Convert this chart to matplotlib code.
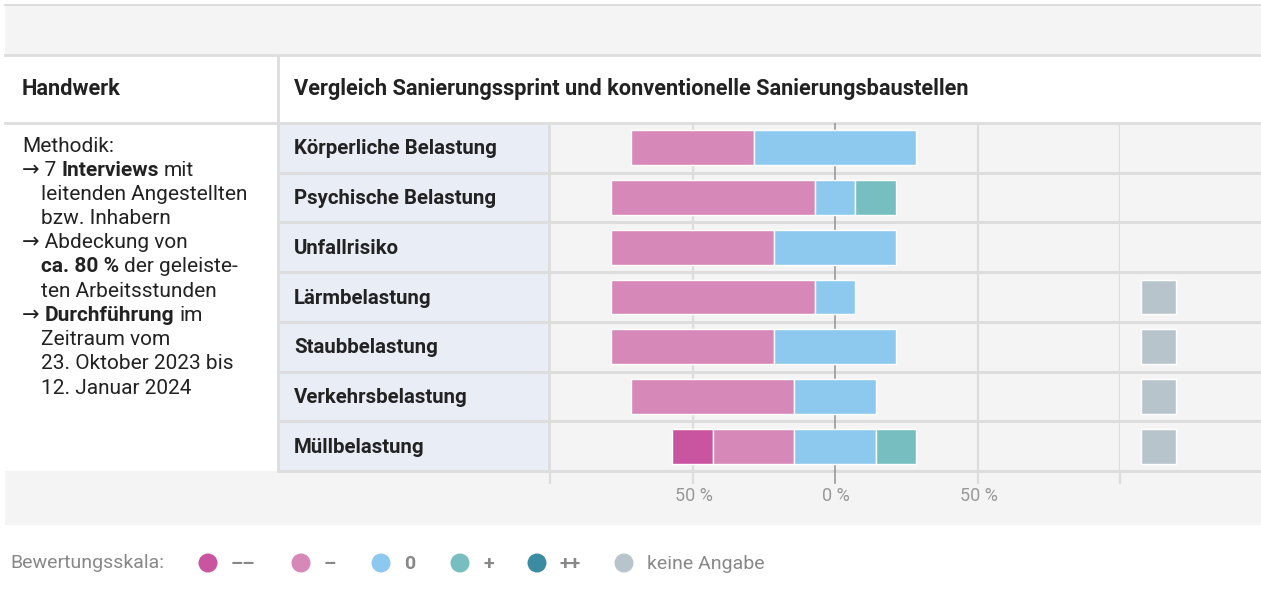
import numpy as np
import matplotlib
matplotlib.use('Agg')
import matplotlib.pyplot as plt
from matplotlib.patches import Rectangle, Circle

plt.rcParams['font.family'] = ['Roboto', 'DejaVu Sans']

# --- data: number of interviews (of 7) per rating ---
categories = ['Körperliche Belastung', 'Psychische Belastung', 'Unfallrisiko',
              'Lärmbelastung', 'Staubbelastung', 'Verkehrsbelastung', 'Müllbelastung']
n_total = 7
very_neg = [0, 0, 0, 0, 0, 0, 1]   # --
neg = [3, 5, 4, 5, 4, 4, 2]        # -
neutral = [4, 1, 3, 1, 3, 2, 2]    # 0
pos = [0, 1, 0, 0, 0, 0, 1]        # +
very_pos = [0, 0, 0, 0, 0, 0, 0]   # ++
no_answer = [0, 0, 0, 1, 1, 1, 1]  # keine Angabe

tick_vals = [-50, 0, 50]
tick_labels = ['50 %', '0 %', '50 %']

legend_labels = ['––', '–', '0', '+', '++', 'keine Angabe']
colors = ['#c955a0', '#d688b9', '#8dc9ee', '#77bec1', '#3b8ba3', '#b8c4cc']

W, H = 1261, 596
fig = plt.figure(figsize=(W / 100, H / 100), dpi=100)
fig.patch.set_facecolor('white')

# frame axes in pixel coordinates
ax0 = fig.add_axes([0, 0, 1, 1])
ax0.set_xlim(0, W)
ax0.set_ylim(H, 0)
ax0.axis('off')

grey_bg = '#f4f4f4'
line_c = '#dddddd'
txt_c = '#222222'

row_top, row_bot = 123, 471
nrows = len(categories)
row_h = (row_bot - row_top) / nrows

# background blocks
ax0.add_patch(Rectangle((5, 5), W - 5, 49, color=grey_bg, lw=0))
ax0.add_patch(Rectangle((5, row_bot), W - 5, 525 - row_bot, color=grey_bg, lw=0))
ax0.add_patch(Rectangle((550, row_top), W - 550, row_bot - row_top, color=grey_bg, lw=0))
ax0.add_patch(Rectangle((278, row_top), 272, row_bot - row_top, color='#e9edf5', lw=0))

# lines
ax0.plot([5, W], [5, 5], color=line_c, lw=1.5)
ax0.plot([5, W], [54.5, 54.5], color=line_c, lw=2)
ax0.plot([5, W], [123, 123], color=line_c, lw=2)
ax0.plot([278, 278], [55, row_bot], color=line_c, lw=2)
ax0.plot([549, 549], [row_top, row_bot], color=line_c, lw=2)
for i in range(1, nrows + 1):
    yb = row_top + i * row_h
    ax0.plot([278, W], [yb, yb], color=line_c, lw=2.2)

# headers
ax0.text(22, 89, 'Handwerk', fontsize=15.7, fontweight='bold', color=txt_c, va='center')
ax0.text(294, 89, 'Vergleich Sanierungssprint und konventionelle Sanierungsbaustellen',
         fontsize=15.7, fontweight='bold', color=txt_c, va='center')

# row labels
for i, c in enumerate(categories):
    ax0.text(294, row_top + (i + 0.5) * row_h + 1, c, fontsize=14.7, fontweight='bold',
             color=txt_c, va='center')

# methodik text with bold runs
renderer = fig.canvas.get_renderer()


def text_runs(x, y, parts, size=15.0):
    sp = ax0.text(0, 0, 'a a', fontsize=size)
    nsp = ax0.text(0, 0, 'aa', fontsize=size)
    space = sp.get_window_extent(renderer).width - nsp.get_window_extent(renderer).width
    sp.remove()
    nsp.remove()
    for s, bold in parts:
        t = ax0.text(x, y, s, fontsize=size, fontweight='bold' if bold else 'normal',
                     color=txt_c, va='center', ha='left')
        x += t.get_window_extent(renderer).width + space


meth = [
    (22, [('Methodik:', False)]),
    (22, [('→ 7', False), ('Interviews', True), ('mit', False)]),
    (41, [('leitenden Angestellten', False)]),
    (41, [('bzw. Inhabern', False)]),
    (22, [('→ Abdeckung von', False)]),
    (41, [('ca. 80 %', True), ('der geleiste-', False)]),
    (41, [('ten Arbeitsstunden', False)]),
    (22, [('→', False), ('Durchführung', True), ('im', False)]),
    (41, [('Zeitraum vom', False)]),
    (41, [('23. Oktober 2023 bis', False)]),
    (41, [('12. Januar 2024', False)]),
]
for k, (x, parts) in enumerate(meth):
    text_runs(x, 146 + k * 24.2, parts)

# bar axes
x0, x1 = 550, 1120
ax = fig.add_axes([x0 / W, 1 - row_bot / H, (x1 - x0) / W, (row_bot - row_top) / H])
ax.set_facecolor('none')
ax.set_xlim(-100, 100)
ax.set_ylim(nrows - 0.5, -0.5)
ax.axis('off')

for v in [-50, 50, 100]:
    ax.axvline(v, color=line_c, lw=1.6, zorder=0)
ax.axvline(0, color='#999999', lw=1.2, zorder=0)

y = np.arange(nrows)
pct = lambda a: np.array(a) * 100.0 / n_total
vn, n, z, p, vp = pct(very_neg), pct(neg), pct(neutral), pct(pos), pct(very_pos)
left = -(vn + n + z / 2)
bh = 0.7
for vals, col in zip([vn, n, z, p, vp], colors[:5]):
    m = vals > 0
    ax.barh(y[m], vals[m], left=left[m], height=bh, color=col, edgecolor='white', lw=1, zorder=2)
    left = left + vals

# keine Angabe column
axk = fig.add_axes([x1 / W, 1 - row_bot / H, (W - x1) / W, (row_bot - row_top) / H])
axk.set_facecolor('none')
axk.set_xlim(0, 1)
axk.set_ylim(nrows - 0.5, -0.5)
axk.axis('off')
na = np.array(no_answer)
m = na > 0
axk.barh(y[m], na[m] * 0.25, left=0.149, height=bh, color=colors[5],
         edgecolor='white', lw=1)

# ticks below
for v, lab in zip(tick_vals, tick_labels):
    px = x0 + (v + 100) / 200 * (x1 - x0)
    ax0.text(px + 1, 496, lab, fontsize=13, color='#999999', ha='center', va='center')
for v in [-100, -50, 0, 50, 100]:
    px = x0 + (v + 100) / 200 * (x1 - x0)
    ax0.plot([px, px], [row_bot, 483], color=line_c if v != 0 else '#999999',
             lw=1.6 if v != 0 else 1.2)

# legend
ax0.text(10, 563, 'Bewertungsskala:', fontsize=14, color='#888888', va='center')
cx = [208, 301, 381, 460, 537, 624]
for xc, lab, col in zip(cx, legend_labels, colors):
    ax0.add_patch(Circle((xc, 563), 9.5, color=col, lw=0))
    bold = lab != 'keine Angabe'
    ax0.text(xc + 23, 564, lab, fontsize=14, color='#888888', va='center',
             fontweight='bold' if bold else 'normal')

fig.savefig('out.png', dpi=100)
